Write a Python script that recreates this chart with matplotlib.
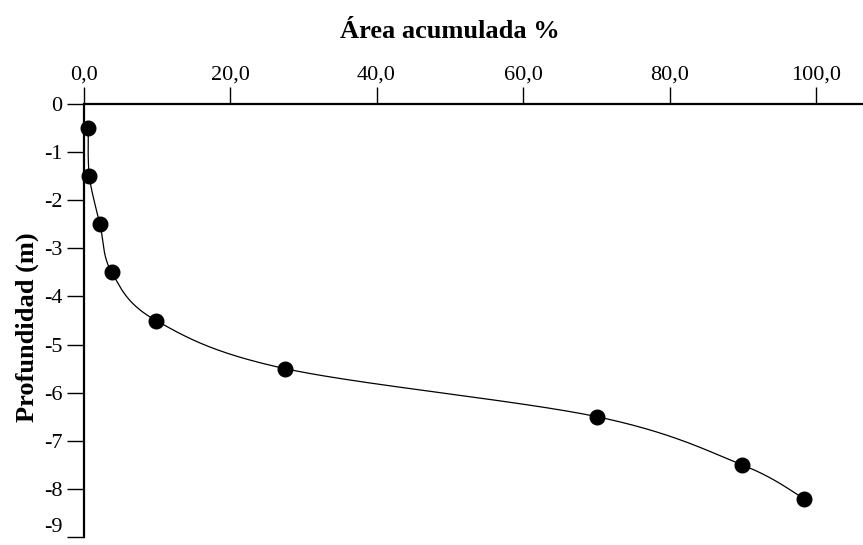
import numpy as np
import matplotlib
matplotlib.use("Agg")
import matplotlib.pyplot as plt
from matplotlib.ticker import FuncFormatter

area_acumulada = [0.65, 0.8, 2.25, 3.85, 9.9, 27.5, 70.1, 89.9, 98.3]
profundidad = [-0.5, -1.5, -2.5, -3.5, -4.5, -5.5, -6.5, -7.5, -8.2]
x_ticks = [0, 20, 40, 60, 80, 100]
y_ticks = [0, -1, -2, -3, -4, -5, -6, -7, -8, -9]

plt.rcParams['font.family'] = ['Liberation Serif', 'DejaVu Serif']

fig = plt.figure(figsize=(8.63, 5.45), dpi=100)
ax = fig.add_axes([83.5 / 863, 1 - 537 / 545, 1 - 83.5 / 863, (537 - 104) / 545])

ax.set_xlim(0, 106.4)
ax.set_ylim(-9, 0)


def catmull_rom(xs, ys, sx, sy, n=60):
    P = np.column_stack([np.asarray(xs) * sx, np.asarray(ys) * sy])
    P = np.vstack([P[0], P, P[-1]])
    out = []
    for i in range(1, len(P) - 2):
        p0, p1, p2, p3 = P[i - 1], P[i], P[i + 1], P[i + 2]
        c1 = p1 + (p2 - p0) / 6.0
        c2 = p2 - (p3 - p1) / 6.0
        t = np.linspace(0, 1, n)[:, None]
        seg = ((1 - t) ** 3) * p1 + 3 * ((1 - t) ** 2) * t * c1 + 3 * (1 - t) * t ** 2 * c2 + t ** 3 * p2
        out.append(seg)
    C = np.vstack(out)
    return C[:, 0] / sx, C[:, 1] / sy


cx, cy = catmull_rom(area_acumulada, profundidad, 7.325, 48.1)
ax.plot(cx, cy, color='black', lw=0.9, zorder=2)
ax.plot(area_acumulada, profundidad, 'o', color='black', markersize=10.5, zorder=3, clip_on=False)

ax.xaxis.tick_top()
ax.set_xticks(x_ticks)
ax.xaxis.set_major_formatter(FuncFormatter(lambda v, p: f"{v:.1f}".replace('.', ',')))
ax.set_yticks(y_ticks)
ax.yaxis.set_major_formatter(FuncFormatter(lambda v, p: f"{int(round(v))}"))

for s in ['right', 'bottom']:
    ax.spines[s].set_visible(False)
for s in ['top', 'left']:
    ax.spines[s].set_linewidth(1.6)

ax.tick_params(axis='x', direction='out', length=12, width=1.0, labelsize=16, pad=2)
ax.tick_params(axis='y', direction='out', length=12, width=1.0, labelsize=16, pad=3)
for lbl in ax.get_yticklabels():
    if lbl.get_text() == '-9':
        lbl.set_va('bottom')

fig.text(450 / 863, 1 - 38 / 545, 'Área acumulada %', ha='center', va='baseline',
         fontsize=19, fontweight='bold')
fig.text(27 / 863, 1 - 327 / 545, 'Profundidad (m)', ha='center', va='center',
         rotation=90, fontsize=19, fontweight='bold')

fig.savefig('out.png', dpi=100)
